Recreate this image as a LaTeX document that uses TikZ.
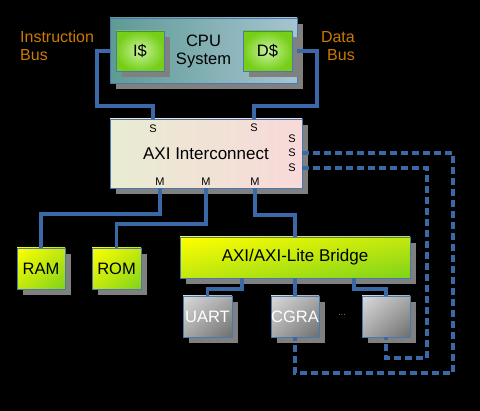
\documentclass[tikz,border=0pt]{standalone}
\usepackage{fontspec}
\setmainfont{Liberation Sans}
\usetikzlibrary{shadows,shadings}
\definecolor{busblue}{HTML}{3B69A8}
\definecolor{edgeblue}{HTML}{4A78B0}
\definecolor{buslabel}{HTML}{CC7A00}
\definecolor{cpuleft}{HTML}{5E9A94}
\definecolor{cpuright}{HTML}{A6C4D0}
\definecolor{axileft}{HTML}{E8ECD2}
\definecolor{axiright}{HTML}{F9D9D9}
\definecolor{glow}{HTML}{C8F2A0}
\definecolor{cachegreen}{HTML}{76CF16}
\definecolor{limemid}{HTML}{C2E80E}
\definecolor{limeend}{HTML}{7ED31A}
\definecolor{graylight}{HTML}{DADADA}
\definecolor{graymid}{HTML}{A8A8A8}
\definecolor{graydark}{HTML}{6E6E6E}
\tikzset{
	box/.style={draw=edgeblue,line width=0.8pt,inner sep=0,outer sep=0,
		drop shadow={shadow xshift=6pt,shadow yshift=-6pt,fill=black!50,opacity=1}},
	greenbox/.style={box,upper left=yellow,upper right=limemid,
		lower left=limemid,lower right=limeend},
	cachebox/.style={box,inner color=glow,outer color=cachegreen},
	graybox/.style={box,upper left=graylight,upper right=graymid,
		lower left=graymid,lower right=graydark,text=white},
	port/.style={font=\fontsize{11}{11}\selectfont,inner sep=0},
	buswire/.style={busblue,line width=3.2pt},
	ebuswire/.style={buswire,dash pattern=on 7pt off 4pt}
}
\begin{document}
\begin{tikzpicture}[x=1pt,y=-1pt]
	\fill[black] (0,0) rectangle (480,411);
	\useasboundingbox (0,0) rectangle (480,411);
	% cpu side
	\node[box,left color=cpuleft,right color=cpuright,minimum width=187pt,minimum height=65pt] (cpu) at (203.5,50.5) {};
	\node[cachebox,minimum width=48pt,minimum height=40pt,font=\fontsize{16.5}{18}\selectfont] (icache) at (140,51) {I\$};
	\node[cachebox,minimum width=49pt,minimum height=40pt,font=\fontsize{16.5}{18}\selectfont] (dcache) at (267.5,51) {D\$};
	\node[align=center,font=\fontsize{16.5}{18}\selectfont,inner sep=0] (cpulbl) at (203.5,51) {CPU\\System};
	\node[text=buslabel,font=\fontsize{16}{18}\selectfont,inner sep=0,align=left,anchor=north west] (ibus) at (20,31) {Instruction\\Bus};
	\node[text=buslabel,font=\fontsize{16}{18}\selectfont,inner sep=0,align=right,anchor=north east] (dbus) at (355,31) {Data\\Bus};
	% interconnect
	\node[box,left color=axileft,right color=axiright,minimum width=192pt,minimum height=69pt,font=\fontsize{17}{18}\selectfont] (axi) at (206,153.5) {AXI Interconnect};
	\node[port] (s1) at (153,129) {S};
	\node[port] (s2) at (254,128) {S};
	\node[port] (s3) at (292,139) {S};
	\node[port] (s4) at (292,153) {S};
	\node[port] (s5) at (292,168) {S};
	\node[port] (m1) at (160,182) {M};
	\node[port] (m2) at (206,182) {M};
	\node[port] (m3) at (255,182) {M};
	% memories and bridge
	\node[greenbox,minimum width=48pt,minimum height=41pt,font=\fontsize{16.5}{18}\selectfont] (ram) at (41,268.5) {RAM};
	\node[greenbox,minimum width=49pt,minimum height=41pt,font=\fontsize{16.5}{18}\selectfont] (rom) at (116.5,268.5) {ROM};
	\node[greenbox,minimum width=230pt,minimum height=41pt,font=\fontsize{17}{18}\selectfont] (bridge) at (295,257.5) {AXI/AXI-Lite Bridge};
	\node[graybox,minimum width=49pt,minimum height=41pt,font=\fontsize{16.5}{18}\selectfont] (uart) at (207.5,316.5) {UART};
	\node[graybox,minimum width=48pt,minimum height=41pt,font=\fontsize{16.5}{18}\selectfont] (cgra) at (295,316.5) {CGRA};
	\node[graybox,minimum width=48pt,minimum height=41pt] (blank) at (386,316.5) {};
	\node[text=buslabel,font=\fontsize{9}{9}\selectfont,inner sep=0] (dots) at (342,315) {...};
	% buses
	\draw[buswire] (cpu.west |- icache) -- ++(-13,0) |- ([yshift=13pt]axi.north -| s1) -- (axi.north -| s1);
	\draw[buswire] (cpu.east |- dcache) -- ++(20,0) |- ([yshift=13pt]axi.north -| s2) -- (axi.north -| s2);
	\draw[buswire] (axi.south -| m1) -- ++(0,26) -| (ram.north);
	\draw[buswire] (axi.south -| m2) -- ++(0,36) -| (rom.north);
	\draw[buswire] (axi.south -| m3) -- ++(0,27) -| (bridge.north);
	\draw[buswire] ([xshift=-53pt]bridge.south) -- ++(0,11) -| (uart.north);
	\draw[buswire] (bridge.south) -- (cgra.north);
	\draw[buswire] ([xshift=59pt]bridge.south) -- ++(0,11) -| (blank.north);
	\draw[ebuswire] (axi.east |- s4) -- ++(151,0) |- ([yshift=-36pt]cgra.south) -- (cgra.south);
	\draw[ebuswire] (axi.east |- s5) -- ++(125,0) |- ([yshift=-21pt]blank.south) -- (blank.south);
\end{tikzpicture}
\end{document}
